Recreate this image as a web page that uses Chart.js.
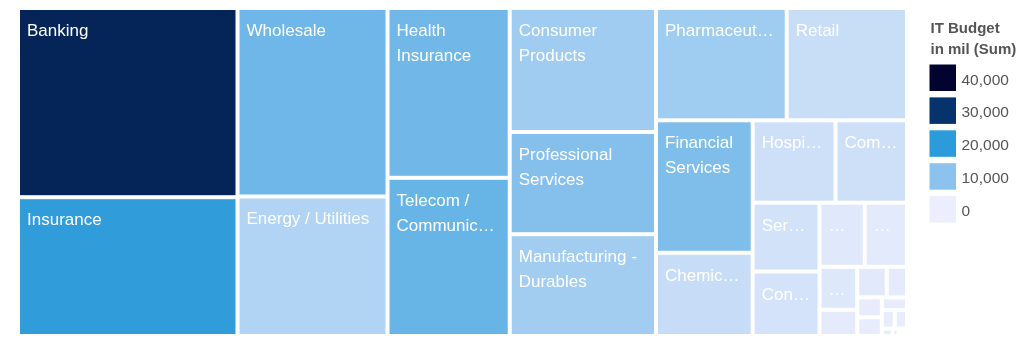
<!DOCTYPE html>
<html>
<head>
<meta charset="utf-8">
<style>
html,body{margin:0;padding:0;background:#ffffff;}
#wrap{width:1024px;height:341px;position:relative;}
canvas{display:block;}
</style>
<script src="https://cdn.jsdelivr.net/npm/chart.js@4.4.1/dist/chart.umd.min.js"></script>
</head>
<body>
<div id="wrap"><canvas id="chart" width="1024" height="341"></canvas></div>
<script>
// ---------------- data ----------------
const industries = [
  "Banking", "Insurance", "Wholesale", "Energy / Utilities", "Health Insurance",
  "Telecom / Communications", "Consumer Products", "Professional Services",
  "Manufacturing - Durables", "Pharmaceuticals", "Retail", "Financial Services",
  "Chemicals", "Hospitals", "Computers / Electronics", "Services", "Construction",
  "Media", "Education", "Aerospace", "Automotive", "Government", "Hospitality",
  "Transportation", "Entertainment", "Biotechnology", "Agriculture", "Real Estate",
  "Mining", "Non-Profit", "Legal", "Publishing", "Other"
];
// tile size measure (relative)
const sizeValues = [
  4153, 3047, 2828, 2093, 2075,
  1933, 1814, 1495,
  1489, 1468, 1351, 1281,
  805, 682, 589, 460, 431,
  290, 271, 162, 99, 90, 62,
  49, 46, 32, 24, 22.5,
  8, 4.5, 2.5, 2, 1.8
];
// colour measure: IT Budget in mil (Sum)
const budgetValues = [
  33000, 19500, 13000, 6200, 12800,
  13800, 7900, 10700,
  7700, 8000, 3800, 11300,
  3900, 3300, 3300, 2900, 2600,
  1300, 1000, 1500, 800, 1100, 800,
  600, 400, 600, 500, 400,
  300, 200, 100, 100, 100
];
const legendTicks = [40000, 30000, 20000, 10000, 0];
const legendTitle = ["IT Budget", "in mil (Sum)"];

// ---------------- styles ----------------
const colorStops = [
  [0,     [237, 238, 253]],
  [10000, [140, 195, 238]],
  [20000, [43, 155, 217]],
  [30000, [6, 51, 107]],
  [40000, [3, 3, 47]]
];
function colorFor(v) {
  if (v <= colorStops[0][0]) return rgb(colorStops[0][1]);
  for (let i = 1; i < colorStops.length; i++) {
    const [v1, c1] = colorStops[i];
    const [v0, c0] = colorStops[i - 1];
    if (v <= v1) {
      const t = (v - v0) / (v1 - v0);
      return rgb([0, 1, 2].map(k => c0[k] + (c1[k] - c0[k]) * t));
    }
  }
  return rgb(colorStops[colorStops.length - 1][1]);
}
function rgb(c) { return 'rgb(' + c.map(x => Math.round(x)).join(',') + ')'; }

const LABEL_FONT = '17px "Liberation Sans", Arial, Helvetica, sans-serif';
const GAP = 2;           // half gap between tiles
const PAD_L = 7;         // label left padding
const PAD_W = 14.5;      // total horizontal padding for label fitting
const FIRST_BASE = 26;   // first baseline offset
const LINE_H = 25;

// ---------------- squarified layout (ratio 1) ----------------
function squarify(items, x0, y0, x1, y1, kx, ky) {
  let value = items.reduce((s, d) => s + d.value, 0);
  let i0 = 0, i1 = 0;
  const n = items.length;
  while (i0 < n) {
    const dx = (x1 - x0) * kx, dy = (y1 - y0) * ky;
    let sum = items[i1++].value, minV = sum, maxV = sum;
    const alpha = Math.max(dy / dx, dx / dy) / value;
    let beta = sum * sum * alpha;
    let minRatio = Math.max(maxV / beta, beta / minV);
    for (; i1 < n; ++i1) {
      const v = items[i1].value;
      sum += v;
      if (v < minV) minV = v;
      if (v > maxV) maxV = v;
      beta = sum * sum * alpha;
      const nr = Math.max(maxV / beta, beta / minV);
      if (nr > minRatio) { sum -= v; break; }
      minRatio = nr;
    }
    const row = items.slice(i0, i1);
    if (dx < dy) {
      const yb = i1 < n ? y0 + (y1 - y0) * sum / value : y1;
      let x = x0;
      row.forEach((d, j) => {
        const w = (x1 - x0) * d.value / sum;
        d.x0 = x; d.x1 = (j === row.length - 1) ? x1 : x + w; x += w;
        d.y0 = y0; d.y1 = yb;
      });
      y0 = yb;
    } else {
      const xb = i1 < n ? x0 + (x1 - x0) * sum / value : x1;
      let y = y0;
      row.forEach((d, j) => {
        const h = (y1 - y0) * d.value / sum;
        d.y0 = y; d.y1 = (j === row.length - 1) ? y1 : y + h; y += h;
        d.x0 = x0; d.x1 = xb;
      });
      x0 = xb;
    }
    value -= sum;
    i0 = i1;
  }
  return items;
}

// ---------------- label fitting ----------------
function fitWithEllipsis(ctx, s, maxW) {
  const ell = '\u2026';
  let t = s;
  while (t.length > 0 && ctx.measureText(t + ell).width > maxW) t = t.slice(0, -1);
  t = t.replace(/\s+$/, '');
  if (ctx.measureText(t + ell).width <= maxW) return t + ell;
  return '';
}
function wrapLabel(ctx, text, maxW, maxLines) {
  const words = text.split(' ');
  const lines = [];
  let cur = '';
  for (let i = 0; i < words.length; i++) {
    const w = words[i];
    if (!cur) {
      if (ctx.measureText(w).width <= maxW) cur = w;
      else { const t = fitWithEllipsis(ctx, w, maxW); if (t) lines.push(t); return lines; }
    } else {
      const test = cur + ' ' + w;
      if (ctx.measureText(test).width <= maxW) cur = test;
      else {
        if (lines.length + 1 >= maxLines) {
          const t = fitWithEllipsis(ctx, test, maxW); if (t) lines.push(t); return lines;
        }
        lines.push(cur); cur = ''; i--;
      }
    }
  }
  if (cur) lines.push(cur);
  return lines;
}

// ---------------- plugin drawing the treemap cells via the scales ----------------
const treemapPlugin = {
  id: 'treemapCells',
  afterDatasetsDraw(chart) {
    const ds = chart.data.datasets[0];
    const xs = chart.scales.x, ys = chart.scales.y;
    const kx = Math.abs(xs.getPixelForValue(1) - xs.getPixelForValue(0));
    const ky = Math.abs(ys.getPixelForValue(1) - ys.getPixelForValue(0));
    const items = ds.categories.map((name, i) => ({ name, value: ds.sizes[i], color: ds.budgets[i] }))
      .sort((a, b) => b.value - a.value);
    squarify(items, 0, 0, 1, 1, kx, ky);
    const ctx = chart.ctx;
    ctx.save();
    items.forEach(d => {
      const px0 = xs.getPixelForValue(d.x0) + GAP, px1 = xs.getPixelForValue(d.x1) - GAP;
      const py0 = ys.getPixelForValue(d.y0) + GAP, py1 = ys.getPixelForValue(d.y1) - GAP;
      const w = px1 - px0, h = py1 - py0;
      if (w <= 0 || h <= 0) return;
      ctx.fillStyle = colorFor(d.color);
      ctx.fillRect(px0, py0, w, h);
      const maxLines = h >= FIRST_BASE + 5 ? Math.floor((h - FIRST_BASE - 5) / LINE_H) + 1 : 0;
      if (maxLines < 1) return;
      ctx.font = LABEL_FONT;
      const lines = wrapLabel(ctx, d.name, w - PAD_W, maxLines);
      ctx.fillStyle = '#ffffff';
      ctx.textBaseline = 'alphabetic';
      ctx.textAlign = 'left';
      lines.forEach((ln, j) => ctx.fillText(ln, px0 + PAD_L, py0 + FIRST_BASE + j * LINE_H));
    });
    ctx.restore();
  },
  afterDraw(chart) {
    const ctx = chart.ctx;
    ctx.save();
    ctx.fillStyle = '#555555';
    ctx.textAlign = 'left';
    ctx.textBaseline = 'alphabetic';
    ctx.font = 'bold 15px "Liberation Sans", Arial, Helvetica, sans-serif';
    legendTitle.forEach((t, i) => ctx.fillText(t, 930.5, 32.5 + i * 21.5));
    ctx.font = '15.5px "Liberation Sans", Arial, Helvetica, sans-serif';
    legendTicks.forEach((v, i) => {
      const y = 64.5 + i * 32.9;
      ctx.fillStyle = colorFor(v);
      ctx.fillRect(929.5, y, 26.5, 26.5);
      ctx.fillStyle = '#555555';
      ctx.fillText(v.toLocaleString('en-US'), 961.5, y + 20);
    });
    ctx.restore();
  }
};

new Chart(document.getElementById('chart').getContext('2d'), {
  type: 'scatter',
  data: {
    datasets: [{
      label: legendTitle.join(' '),
      data: [],
      categories: industries,
      sizes: sizeValues,
      budgets: budgetValues
    }]
  },
  options: {
    responsive: false,
    animation: false,
    devicePixelRatio: 1,
    layout: { padding: { left: 18, top: 8, right: 117, bottom: 5 } },
    scales: {
      x: { type: 'linear', min: 0, max: 1, display: false },
      y: { type: 'linear', min: 0, max: 1, reverse: true, display: false }
    },
    plugins: { legend: { display: false }, tooltip: { enabled: false } }
  },
  plugins: [treemapPlugin]
});
</script>
</body>
</html>
